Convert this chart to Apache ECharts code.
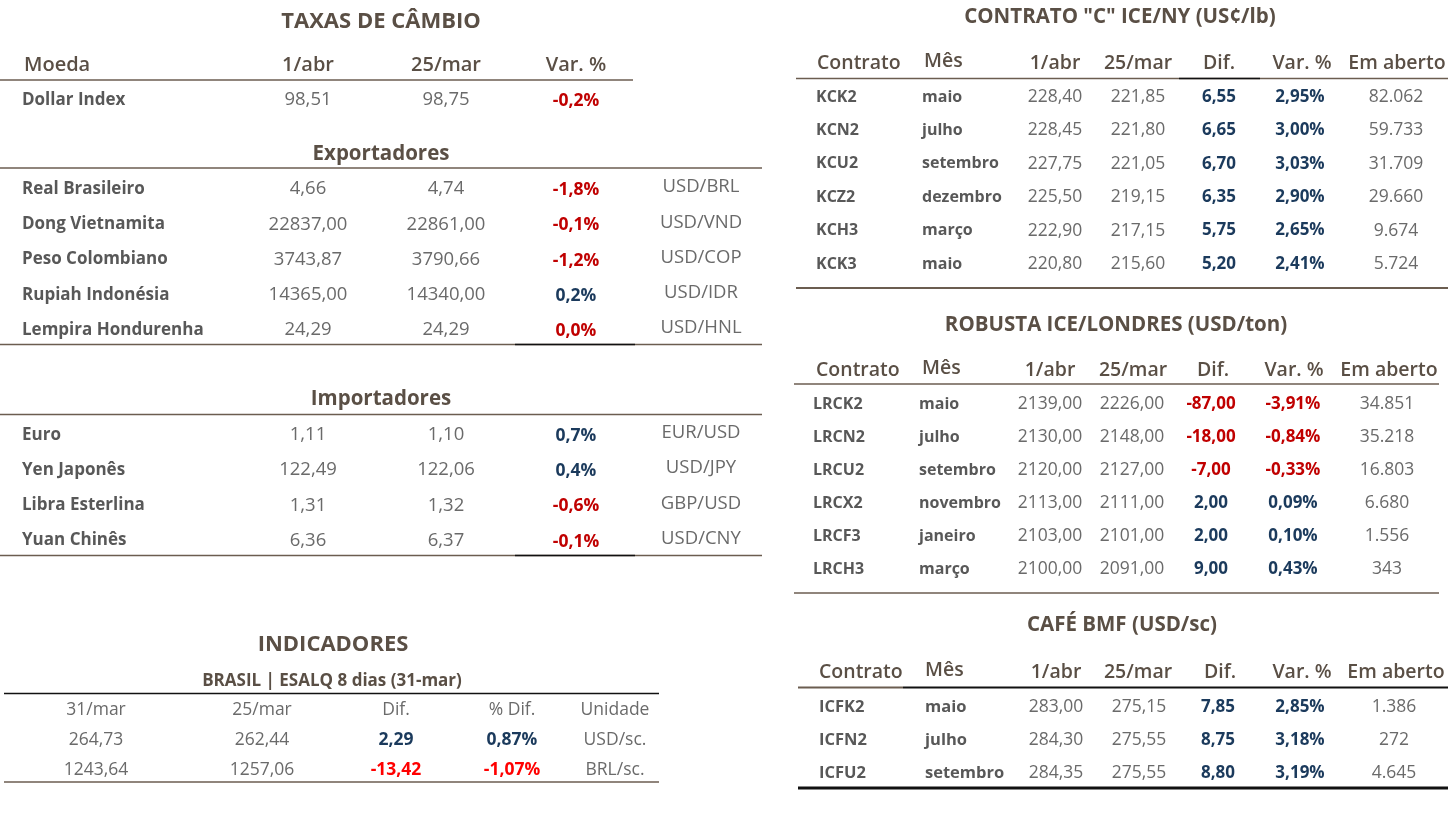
<!DOCTYPE html>
<html>
<head>
<meta charset="utf-8">
<script src="https://cdn.jsdelivr.net/npm/echarts@6/dist/echarts.min.js"></script>
<style>
  html, body { margin: 0; padding: 0; background: #fff; }
  #main { width: 1449px; height: 814px; }
</style>
</head>
<body>
<div id="main"></div>
<script>
/* Painel de câmbio, futuros de café e indicadores */

// ---- Taxas de câmbio ----
const fxHeader = ['Moeda', '1/abr', '25/mar', 'Var. %'];
const dxyRow = ['Dollar Index', 98.51, 98.75, -0.2];

const exportNames = ['Real Brasileiro', 'Dong Vietnamita', 'Peso Colombiano', 'Rupiah Indonésia', 'Lempira Hondurenha'];
const exportApr1 = [4.66, 22837.00, 3743.87, 14365.00, 24.29];
const exportMar25 = [4.74, 22861.00, 3790.66, 14340.00, 24.29];
const exportVar = [-1.8, -0.1, -1.2, 0.2, 0.0];
const exportPairs = ['USD/BRL', 'USD/VND', 'USD/COP', 'USD/IDR', 'USD/HNL'];

const importNames = ['Euro', 'Yen Japonês', 'Libra Esterlina', 'Yuan Chinês'];
const importApr1 = [1.11, 122.49, 1.31, 6.36];
const importMar25 = [1.10, 122.06, 1.32, 6.37];
const importVar = [0.7, 0.4, -0.6, -0.1];
const importPairs = ['EUR/USD', 'USD/JPY', 'GBP/USD', 'USD/CNY'];

// ---- Futuros ----
const futHeader = ['Contrato', 'Mês', '1/abr', '25/mar', 'Dif.', 'Var. %', 'Em aberto'];

const kcContracts = ['KCK2', 'KCN2', 'KCU2', 'KCZ2', 'KCH3', 'KCK3'];
const kcMonths = ['maio', 'julho', 'setembro', 'dezembro', 'março', 'maio'];
const kcApr1 = [228.40, 228.45, 227.75, 225.50, 222.90, 220.80];
const kcMar25 = [221.85, 221.80, 221.05, 219.15, 217.15, 215.60];
const kcDif = [6.55, 6.65, 6.70, 6.35, 5.75, 5.20];
const kcVar = [2.95, 3.00, 3.03, 2.90, 2.65, 2.41];
const kcOpen = [82062, 59733, 31709, 29660, 9674, 5724];

const lrContracts = ['LRCK2', 'LRCN2', 'LRCU2', 'LRCX2', 'LRCF3', 'LRCH3'];
const lrMonths = ['maio', 'julho', 'setembro', 'novembro', 'janeiro', 'março'];
const lrApr1 = [2139.00, 2130.00, 2120.00, 2113.00, 2103.00, 2100.00];
const lrMar25 = [2226.00, 2148.00, 2127.00, 2111.00, 2101.00, 2091.00];
const lrDif = [-87.00, -18.00, -7.00, 2.00, 2.00, 9.00];
const lrVar = [-3.91, -0.84, -0.33, 0.09, 0.10, 0.43];
const lrOpen = [34851, 35218, 16803, 6680, 1556, 343];

const icfContracts = ['ICFK2', 'ICFN2', 'ICFU2'];
const icfMonths = ['maio', 'julho', 'setembro'];
const icfApr1 = [283.00, 284.30, 284.35];
const icfMar25 = [275.15, 275.55, 275.55];
const icfDif = [7.85, 8.75, 8.80];
const icfVar = [2.85, 3.18, 3.19];
const icfOpen = [1386, 272, 4645];

// ---- Indicadores ----
const esalqHeader = ['31/mar', '25/mar', 'Dif.', '% Dif.', 'Unidade'];
const esalqMar31 = [264.73, 1243.64];
const esalqMar25 = [262.44, 1257.06];
const esalqDif = [2.29, -13.42];
const esalqPct = [0.87, -1.07];
const esalqUnit = ['USD/sc.', 'BRL/sc.'];

// ---- estilos ----
const BROWN = '#5a4f45';
const LINE = '#6b5d50';
const GRAY = '#6a6a6a';
const LABEL = '#585858';
const RED = '#c00000';
const RED2 = '#ff0000';
const BLUE = '#1b3a5c';
const FONT = '"Open Sans", sans-serif';

const fmt = (v, d) => v.toFixed(d).replace('.', ',');
const fmtInt = v => String(v).replace(/\B(?=(\d{3})+(?!\d))/g, '.');

const els = [];
// w: peso da fonte
function txt(x, y, s, size, color, w, align) {
  els.push({
    type: 'text', x: x, y: y, silent: true,
    style: {
      text: s,
      font: (w || 400) + ' ' + size + 'px ' + FONT,
      fill: color,
      textAlign: align || 'center',
      textVerticalAlign: 'middle'
    }
  });
}
function line(x1, x2, y, color, lw) {
  els.push({
    type: 'line', silent: true,
    shape: { x1: x1, y1: y, x2: x2, y2: y },
    style: { stroke: color || LINE, lineWidth: lw || 1.5 }
  });
}

// ---- tabela de câmbio ----
function fxTable() {
  const cx = [308, 446, 576, 701];
  txt(381, 22, 'TAXAS DE CÂMBIO', 22, BROWN, 700);
  txt(24, 65, fxHeader[0], 20, BROWN, 600, 'left');
  fxHeader.slice(1).forEach((h, i) => txt(cx[i], 65, h, 20, BROWN, 600));
  line(0, 633, 80);

  txt(22, 100, dxyRow[0], 17, LABEL, 700, 'left');
  txt(cx[0], 100, fmt(dxyRow[1], 2), 18.5, GRAY);
  txt(cx[1], 100, fmt(dxyRow[2], 2), 18.5, GRAY);
  txt(cx[2], 101, fmt(dxyRow[3], 1) + '%', 17.5, dxyRow[3] > 0 ? BLUE : RED, 700);

  function block(title, ty, ly, y0, step, names, a, b, v, pairs, by) {
    txt(381, ty, title, 20.5, BROWN, 700);
    line(0, 762, ly);
    names.forEach((n, i) => {
      const y = y0 + i * step;
      txt(22, y, n, 17, LABEL, 700, 'left');
      txt(cx[0], y, fmt(a[i], 2), 18.5, GRAY);
      txt(cx[1], y, fmt(b[i], 2), 18.5, GRAY);
      txt(cx[2], y + 1, fmt(v[i], 1) + '%', 17.5, v[i] > 0 ? BLUE : RED, 700);
      txt(cx[3], y - 2, pairs[i], 18.5, GRAY);
    });
    line(0, 762, by);
    line(515, 635, by, '#111', 1.5);
  }
  block('Exportadores', 154, 168, 189, 35.3, exportNames, exportApr1, exportMar25, exportVar, exportPairs, 344.5);
  block('Importadores', 399, 414.5, 435, 35.2, importNames, importApr1, importMar25, importVar, importPairs, 555.5);
}

// ---- tabelas de futuros ----
function futTable(cfg, contracts, months, a, b, dif, vr, open) {
  const c = cfg.cols, h = cfg.head;
  txt(cfg.titleX, cfg.titleY, cfg.title, 20.5, BROWN, 700);
  txt(h[0], cfg.headY, futHeader[0], 19.5, BROWN, 600, 'left');
  txt(h[1], cfg.headY - 2, futHeader[1], 19.5, BROWN, 600, 'left');
  futHeader.slice(2).forEach((t, i) => txt(h[i + 2], cfg.headY, t, 19.5, BROWN, 600));
  if (cfg.headSplit) {
    line(cfg.x1, cfg.headSplit, cfg.lineY, LINE, 2);
    line(cfg.headSplit, cfg.x2, cfg.lineY, '#111', 2);
  } else {
    line(cfg.x1, cfg.x2, cfg.lineY, LINE, 1.5);
    if (cfg.headDark) line(cfg.headDark[0], cfg.headDark[1], cfg.lineY, '#111', 1.5);
  }
  contracts.forEach((k, i) => {
    const y = cfg.rowY + i * cfg.step;
    txt(c[0], y, k, cfg.labelSize, LABEL, 700, 'left');
    txt(c[1], y, months[i], cfg.labelSize, LABEL, 700, 'left');
    txt(c[2], y, fmt(a[i], 2), 17.5, GRAY);
    txt(c[3], y, fmt(b[i], 2), 17.5, GRAY);
    const col = dif[i] > 0 ? BLUE : RED;
    txt(c[4], y, fmt(dif[i], 2), 17, col, 700);
    txt(c[5], y, fmt(vr[i], 2) + '%', 17, col, 700);
    txt(c[6], y, fmtInt(open[i]), 17.5, GRAY);
  });
  line(cfg.x1, cfg.x2, cfg.bottomY, cfg.bottomColor || LINE, cfg.bottomW || 2);
}

// ---- indicadores ----
function esalqTable() {
  const cx = [96, 262, 396, 512, 615];
  txt(333, 645, 'INDICADORES', 22, BROWN, 700);
  txt(332, 681, 'BRASIL | ESALQ 8 dias (31-mar)', 17, BROWN, 700);
  line(4, 659, 693.5, '#111', 1.5);
  esalqHeader.forEach((t, i) => txt(cx[i], 710, t, 17.5, GRAY));
  esalqMar31.forEach((v, i) => {
    const y = 740 + i * 30;
    const col = esalqDif[i] > 0 ? BLUE : RED2;
    txt(cx[0], y, fmt(v, 2), 17.5, GRAY);
    txt(cx[1], y, fmt(esalqMar25[i], 2), 17.5, GRAY);
    txt(cx[2], y, fmt(esalqDif[i], 2), 17.5, col, 700);
    txt(cx[3], y, fmt(esalqPct[i], 2) + '%', 17.5, col, 700);
    txt(cx[4], y, esalqUnit[i], 17.5, GRAY);
  });
  line(4, 659, 782);
}

fxTable();
futTable({
  title: 'CONTRATO "C" ICE/NY (US¢/lb)', titleX: 1120, titleY: 17,
  head: [817, 924, 1055, 1138, 1219, 1302, 1397],
  cols: [816, 922, 1055, 1138, 1219, 1300, 1396],
  headY: 63, lineY: 78.5, x1: 796, x2: 1448, headDark: [1179, 1260],
  rowY: 97, step: 33.4, bottomY: 288, labelSize: 16
}, kcContracts, kcMonths, kcApr1, kcMar25, kcDif, kcVar, kcOpen);
futTable({
  title: 'ROBUSTA ICE/LONDRES (USD/ton)', titleX: 1116, titleY: 325,
  head: [816, 922, 1050, 1133, 1213, 1294, 1389],
  cols: [813, 919, 1050, 1132, 1211, 1293, 1387],
  headY: 370, lineY: 384, x1: 794, x2: 1439,
  rowY: 404, step: 33, bottomY: 593, labelSize: 16, bottomW: 1.5
}, lrContracts, lrMonths, lrApr1, lrMar25, lrDif, lrVar, lrOpen);
futTable({
  title: 'CAFÉ BMF (USD/sc)', titleX: 1122, titleY: 625,
  head: [819, 925, 1056, 1138, 1220, 1302, 1396],
  cols: [819, 925, 1056, 1139, 1218, 1300, 1394],
  headY: 672, lineY: 687.5, x1: 798, x2: 1448, headSplit: 903,
  rowY: 707, step: 33.2, bottomY: 788, labelSize: 16.5, bottomColor: '#111', bottomW: 3
}, icfContracts, icfMonths, icfApr1, icfMar25, icfDif, icfVar, icfOpen);
esalqTable();

const chart = echarts.init(document.getElementById('main'));
chart.setOption({
  backgroundColor: '#fff',
  animation: false,
  graphic: { elements: els }
});
window.addEventListener('resize', () => chart.resize());
</script>
</body>
</html>
